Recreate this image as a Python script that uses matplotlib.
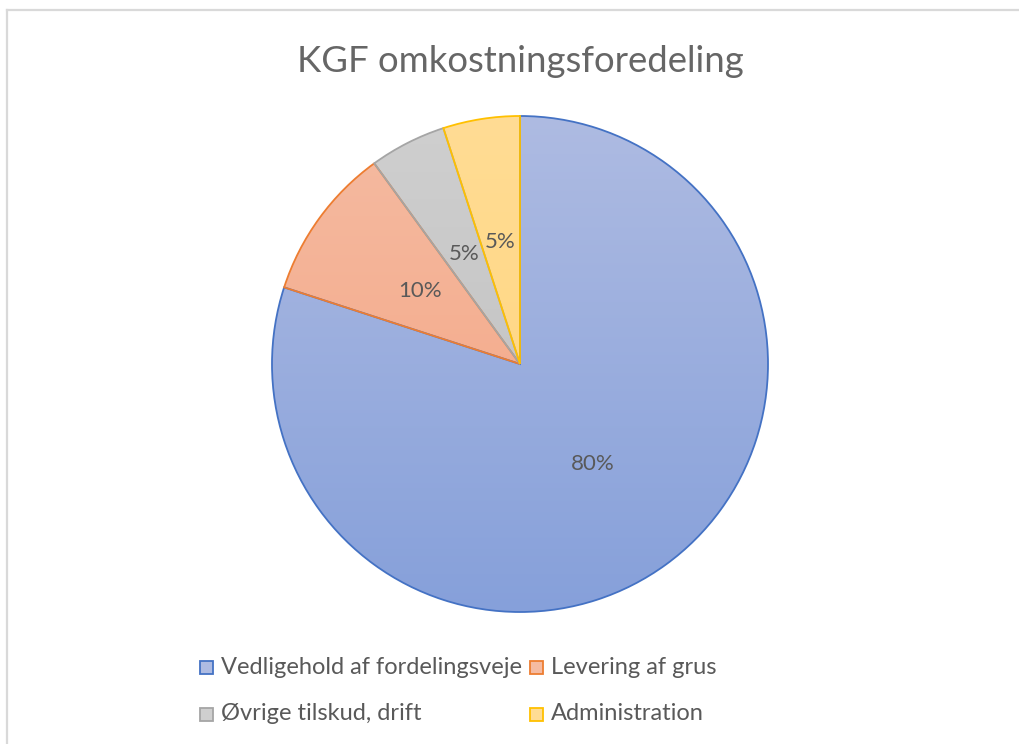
import numpy as np
import matplotlib.pyplot as plt
from matplotlib.lines import Line2D
from matplotlib.patches import Rectangle
import matplotlib.colors as mcolors

# ---------- Data ----------
labels = ['Vedligehold af fordelingsveje', 'Levering af grus',
          'Øvrige tilskud, drift', 'Administration']
shares = [80, 10, 5, 5]
title = 'KGF omkostningsforedeling'

# ---------- Style ----------
edge_colors = ['#4472C4', '#ED7D31', '#A5A5A5', '#FFC000']
top_colors = ['#AEBBE2', '#F5BBA2', '#CFCFCF', '#FFDC94']
bottom_colors = ['#86A0DA', '#F3A27F', '#BDBDBD', '#FFD47A']
text_gray = '#595959'
font = ['Lato', 'DejaVu Sans']

fig = plt.figure(figsize=(10.2, 7.44), dpi=100)

# chart frame (light gray border like the Excel chart area)
fig.add_artist(Line2D([7 / 1020, 7 / 1020], [0, 1 - 10 / 744], transform=fig.transFigure,
                      color='#D9D9D9', lw=1.6))
fig.add_artist(Line2D([7 / 1020, 1], [1 - 10 / 744, 1 - 10 / 744], transform=fig.transFigure,
                      color='#D9D9D9', lw=1.6))

# pie axes: center (520, 364) px, radius 248 px
cx, cy, r = 520, 364, 248
ax = fig.add_axes([(cx - r) / 1020, (744 - cy - r) / 744, 2 * r / 1020, 2 * r / 744])

wedges, texts, autotexts = ax.pie(
    shares, startangle=90, counterclock=False, radius=1.0,
    autopct='%1.0f%%', pctdistance=0.5,
    colors=top_colors,
    wedgeprops=dict(linewidth=1.3),
    textprops=dict(color=text_gray, fontsize=16, family=font))

ax.set_xlim(-1.0, 1.0)
ax.set_ylim(-1.0, 1.0)
ax.set_aspect('equal')
ax.axis('off')

# vertical gradient fill per slice, clipped to the wedge
yy = np.linspace(0, 1, 256).reshape(-1, 1)
for w, ec, ct, cb in zip(wedges, edge_colors, top_colors, bottom_colors):
    w.set_edgecolor(ec)
    w.set_facecolor('none')
    w.set_zorder(3)
    w.set_clip_on(False)
    cmap = mcolors.LinearSegmentedColormap.from_list('g', [cb, ct])
    im = ax.imshow(yy, cmap=cmap, extent=[-1, 1, -1, 1], origin='lower',
                   aspect='auto', zorder=2, interpolation='bilinear')
    im.set_clip_path(w)
for t in autotexts:
    t.set_zorder(4)

# ---------- Title ----------
fig.text(520 / 1020, 1 - 62 / 744, title, ha='center', va='center',
         fontsize=26.3, color='#666666', family=font)

# ---------- Legend ----------
leg_pos = [(200, 667), (530, 667), (200, 714), (530, 714)]
for (lx, ly), lab, ec, fc in zip(leg_pos, labels, edge_colors, top_colors):
    fig.add_artist(Rectangle((lx / 1020, 1 - (ly + 7) / 744), 13 / 1020, 13 / 744,
                             transform=fig.transFigure, facecolor=fc, edgecolor=ec, lw=1.3))
    fig.text((lx + 21) / 1020, 1 - ly / 744, lab, ha='left', va='center',
             fontsize=17, color=text_gray, family=font)

fig.savefig('out.png', dpi=100)
